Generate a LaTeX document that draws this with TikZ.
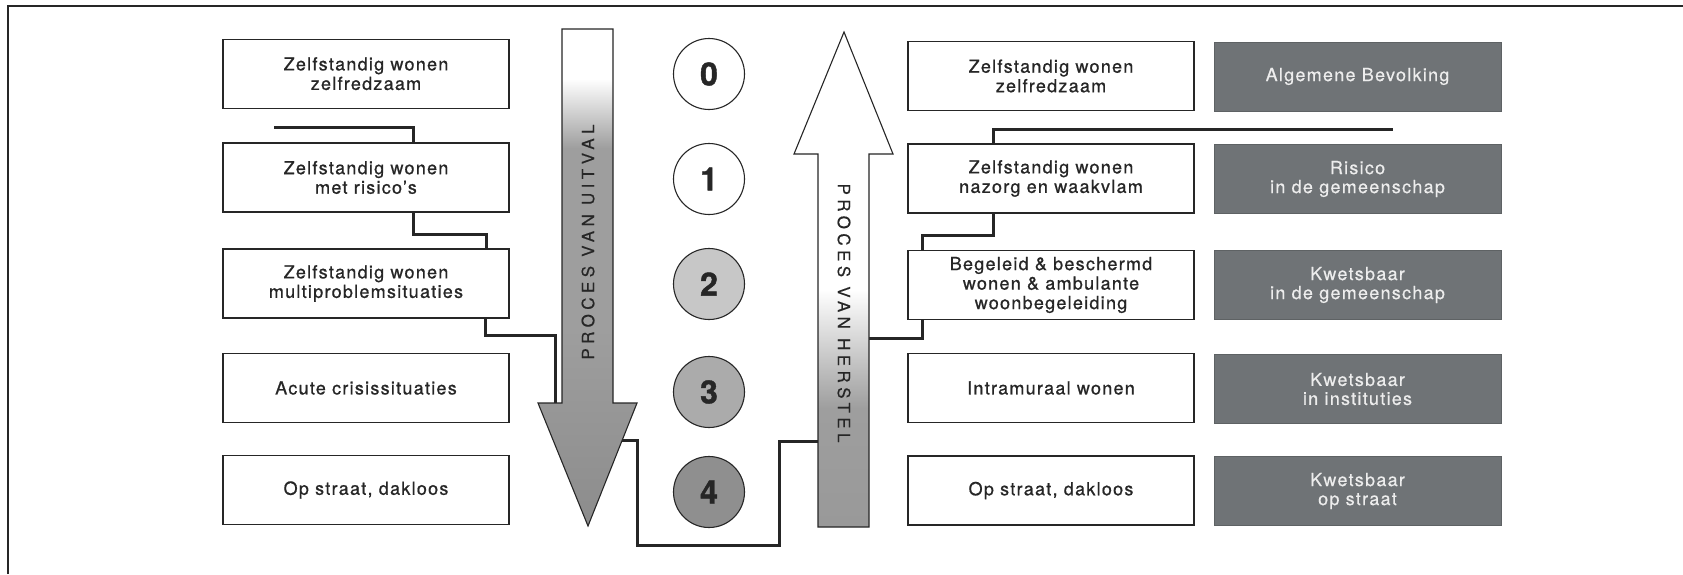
\documentclass[tikz,border=0pt]{standalone}
\usepackage{fontspec}
\setmainfont{TeX Gyre Heros}
\newfontfamily\wideHeros[LetterSpace=7,FakeBold=0.8]{TeX Gyre Heros}
\newfontfamily\lightWide[LetterSpace=7,FakeBold=0.4]{TeX Gyre Heros}
\newfontfamily\arrowHeros[LetterSpace=26,FakeBold=0.4]{TeX Gyre Heros}
\newfontfamily\digitHeros[BoldFeatures={FakeBold=1.2}]{TeX Gyre Heros}
\definecolor{ink}{HTML}{262626}
\definecolor{darkbox}{HTML}{6F7376}
\definecolor{darktext}{HTML}{EDEDED}
\definecolor{shA}{gray}{0.55}
\definecolor{shB}{gray}{0.62}
\definecolor{shC}{gray}{0.60}
\definecolor{stTwo}{gray}{0.78}
\definecolor{stThree}{gray}{0.67}
\definecolor{stFour}{gray}{0.56}
\pgfdeclareverticalshading{downshade}{100bp}{color(0bp)=(shA); color(25bp)=(shA); color(45bp)=(shB); color(63bp)=(shB); color(70bp)=(white); color(100bp)=(white)}
\pgfdeclareverticalshading{upshade}{100bp}{color(0bp)=(shC); color(25bp)=(shC); color(37bp)=(shB); color(49bp)=(white); color(100bp)=(white)}
\tikzset{
  wbox/.style={draw=ink, line width=1.1pt, fill=white, minimum width=286pt, minimum height=69pt, align=center, inner sep=0pt, text=ink, font=\wideHeros\fontsize{18}{19.5}\selectfont},
  dbox/.style={draw=darkbox!85!black, line width=1pt, fill=darkbox, minimum width=287pt, minimum height=69pt, align=center, inner sep=0pt, text=darktext, font=\lightWide\fontsize{18}{19}\selectfont},
  stage/.style={circle, draw=ink, line width=1.1pt, minimum size=71pt, inner sep=0pt, text=ink, font=\digitHeros\bfseries\fontsize{32}{32}\selectfont},
  conn/.style={line width=3pt, draw=ink, line join=miter},
  arrowtxt/.style={text=ink, font=\arrowHeros\fontsize{17}{17}\selectfont},
  bigarrow/.style={draw=ink, line width=1.1pt, line join=miter},
  frameline/.style={line width=2pt, draw=ink}
}
\begin{document}
\begin{tikzpicture}[x=1pt,y=-1pt]
\useasboundingbox (0,0) rectangle (1683,574);
% frame
\coordinate (fb) at (8,574);
\coordinate (ft) at (8,6);
\coordinate (fr) at (1683,6);
\draw[frameline] (fb) -- (ft) -- (fr);

% left boxes
\node[wbox] (L0) at (366,73.7) {Zelfstandig wonen\\zelfredzaam};
\node[wbox] (L1) at (366,177.5) {Zelfstandig wonen\\met risico’s};
\node[wbox] (L2) at (366,283.5) {Zelfstandig wonen\\multiproblemsituaties};
\node[wbox] (L3) at (366,388) {Acute crisissituaties};
\node[wbox] (L4) at (366,490) {Op straat, dakloos};

% right boxes
\node[wbox] (R0) at (1051,76) {Zelfstandig wonen\\zelfredzaam};
\node[wbox] (R1) at (1051,178.5) {Zelfstandig wonen\\nazorg en waakvlam};
\node[wbox] (R2) at (1051,285) {Begeleid \& beschermd\\wonen \& ambulante\\woonbegeleiding};
\node[wbox] (R3) at (1051,388) {Intramuraal wonen};
\node[wbox] (R4) at (1051,490.5) {Op straat, dakloos};

% dark boxes
\node[dbox] (D0) at (1357.5,76.5) {Algemene Bevolking};
\node[dbox] (D1) at (1357.5,179) {Risico\\in de gemeenschap};
\node[dbox] (D2) at (1357.5,285) {Kwetsbaar\\in de gemeenschap};
\node[dbox] (D3) at (1357.5,389) {Kwetsbaar\\in instituties};
\node[dbox] (D4) at (1357.5,491) {Kwetsbaar\\op straat};

% connectors
\coordinate (s0) at (274,127);
\coordinate (e1) at (1393,129);
\draw[conn] (s0) -| ([xshift=47pt]L1.north);
\draw[conn] ([xshift=47pt]L1.south) -- ++(0,22) -| ([xshift=120pt]L2.north);
\draw[conn] ([xshift=119pt]L2.south) -- ++(0,17) -- ++(70,0) -- ++(0,105) -- ++(82,0) -- ++(0,105) -- ++(142,0) -- ++(0,-104) -- ++(64,0) -- ++(0,-103) -| ([xshift=-129pt]R2.south);
\draw[conn] ([xshift=-129pt]R2.north) -- ++(0,-14) -| ([xshift=-58pt]R1.south);
\draw[conn] ([xshift=-58pt]R1.north) |- (e1);

% down arrow
\shade[shading=downshade, bigarrow] (562,29) -- (613,29) -- (613,403) -- (637,403) -- (588,526) -- (538,403) -- (562,403) -- cycle;
\node[arrowtxt, rotate=90] (tU) at (588,242) {PROCES VAN UITVAL};

% up arrow
\shade[shading=upshade, bigarrow] (844,32) -- (893,154) -- (869,154) -- (869,527) -- (818,527) -- (818,154) -- (794,154) -- cycle;
\node[arrowtxt, rotate=-90] (tH) at (844,313) {PROCES VAN HERSTEL};

% stages
\node[stage, fill=white] (C0) at (709,74) {0};
\node[stage, fill=white] (C1) at (709,179) {1};
\node[stage, fill=stTwo] (C2) at (709,284) {2};
\node[stage, fill=stThree] (C3) at (709,392) {3};
\node[stage, fill=stFour] (C4) at (709,492) {4};
\end{tikzpicture}
\end{document}
